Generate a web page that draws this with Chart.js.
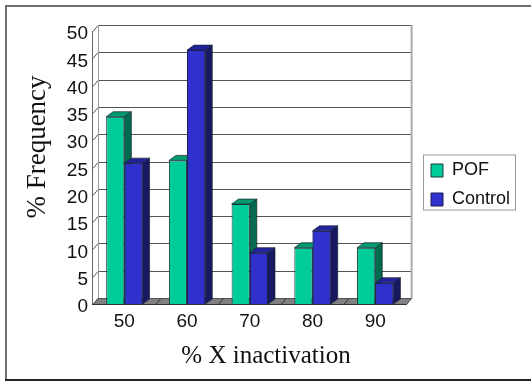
<!DOCTYPE html>
<html>
<head>
<meta charset="utf-8">
<script src="https://cdn.jsdelivr.net/npm/chart.js@4"></script>
<style>
  html, body { margin: 0; padding: 0; background: #fff; }
  canvas { display: block; }
</style>
</head>
<body>
<canvas id="myChart" width="531" height="381"></canvas>
<script>
var CATEGORIES = ['50', '60', '70', '80', '90'];
var POF = [34.3, 26.3, 18.3, 10.3, 10.3];
var CONTROL = [25.8, 46.5, 9.4, 13.4, 3.9];
var Y_TICKS = [0, 5, 10, 15, 20, 25, 30, 35, 40, 45, 50];

// depth of the fake 3d box, in pixels
var DX = 5, DY = -6;
var BAR_DX = 7, BAR_DY = -5;

var SIDE_COLORS = ['#006B4D', '#181860'];
var TOP_COLORS = ['#009A70', '#22229A'];

function face(ctx, pts, color) {
  ctx.beginPath();
  ctx.moveTo(pts[0][0], pts[0][1]);
  for (var i = 1; i < pts.length; i++) ctx.lineTo(pts[i][0], pts[i][1]);
  ctx.closePath();
  ctx.fillStyle = color;
  ctx.fill();
  ctx.strokeStyle = '#1c2430';
  ctx.lineWidth = 0.7;
  ctx.stroke();
}

function barDepth(chart, k) {
  var ctx = chart.ctx;
  chart.getDatasetMeta(k).data.forEach(function(bar) {
    var p = bar.getProps(['x', 'y', 'base', 'width'], true);
    var l = p.x - p.width / 2, r = p.x + p.width / 2;
    face(ctx, [[r, p.y], [r + BAR_DX, p.y + BAR_DY], [r + BAR_DX, p.base + BAR_DY], [r, p.base]], SIDE_COLORS[k]);
    face(ctx, [[l, p.y], [l + BAR_DX, p.y + BAR_DY], [r + BAR_DX, p.y + BAR_DY], [r, p.y]], TOP_COLORS[k]);
  });
}

var frame3d = {
  id: 'frame3d',
  // the legend clips its own box, and the text runs a little past it
  afterLayout: function(chart) {
    chart.legend.right += 12;
  },
  // back wall, floor and grid lines
  beforeDatasetsDraw: function(chart) {
    var ctx = chart.ctx, a = chart.chartArea, y = chart.scales.y, x = chart.scales.x;
    ctx.save();
    ctx.lineWidth = 1;
    Y_TICKS.forEach(function(v) {
      var py = Math.round(y.getPixelForValue(v)) + 0.5;
      ctx.strokeStyle = v === 0 ? '#777' : '#555';
      ctx.beginPath();
      ctx.moveTo(a.left, py);
      ctx.lineTo(a.left + DX, py + DY);
      if (v > 0) ctx.lineTo(a.right + DX, py + DY);
      ctx.stroke();
    });
    // walls
    ctx.strokeStyle = '#666';
    ctx.beginPath();
    ctx.moveTo(Math.round(a.left) - 0.5, a.top);
    ctx.lineTo(Math.round(a.left) - 0.5, a.bottom);
    ctx.stroke();
    ctx.strokeStyle = '#999';
    ctx.beginPath();
    ctx.moveTo(a.left + DX + 0.5, a.top + DY);
    ctx.lineTo(a.left + DX + 0.5, a.bottom + DY);
    ctx.stroke();
    ctx.lineWidth = 2;
    ctx.strokeStyle = '#aaa';
    ctx.beginPath();
    ctx.moveTo(a.right + DX, a.top + DY);
    ctx.lineTo(a.right + DX, a.bottom + DY);
    ctx.stroke();
    // floor
    var b = Math.round(a.bottom) + 0.5;
    face(ctx, [[a.left, b], [a.left + DX, b + DY], [a.right + DX, b + DY], [a.right, b]], '#808080');
    ctx.strokeStyle = '#333';
    ctx.lineWidth = 1;
    for (var i = 1; i < CATEGORIES.length; i++) {
      var fx = (x.getPixelForValue(i - 1) + x.getPixelForValue(i)) / 2;
      ctx.beginPath();
      ctx.moveTo(fx, b);
      ctx.lineTo(fx + DX, b + DY);
      ctx.stroke();
    }
    ctx.beginPath();
    ctx.moveTo(a.left - 1, b);
    ctx.lineTo(a.right, b);
    ctx.stroke();
    ctx.restore();
  },
  // POF depth goes under the Control bars, so those are drawn again on top
  afterDatasetsDraw: function(chart) {
    var ctx = chart.ctx;
    ctx.save();
    barDepth(chart, 0);
    chart.getDatasetMeta(1).data.forEach(function(bar) { bar.draw(ctx); });
    barDepth(chart, 1);
    ctx.restore();
  },
  // outer frame, legend box, axis titles
  afterDraw: function(chart) {
    var ctx = chart.ctx, hit = chart.legend.legendHitBoxes;
    ctx.save();
    ctx.strokeStyle = '#707070';
    ctx.lineWidth = 2;
    ctx.beginPath();
    ctx.moveTo(531, 6);
    ctx.lineTo(6, 6);
    ctx.lineTo(6, 380);
    ctx.stroke();
    ctx.strokeStyle = '#222';
    ctx.beginPath();
    ctx.moveTo(5, 380);
    ctx.lineTo(531, 380);
    ctx.stroke();

    var first = hit[0], last = hit[hit.length - 1];
    ctx.strokeStyle = '#999';
    ctx.lineWidth = 1;
    ctx.strokeRect(423.5, first.top - 6.5, 92, last.top + last.height - first.top + 8);

    ctx.fillStyle = '#111';
    ctx.textAlign = 'center';
    ctx.textBaseline = 'middle';
    ctx.font = '25px "Liberation Serif"';
    ctx.fillText('% X inactivation', 266, 356);
    ctx.translate(38, 147);
    ctx.rotate(-Math.PI / 2);
    ctx.font = '27px "Liberation Serif"';
    ctx.fillText('% Frequency', 0, 0);
    ctx.restore();
  }
};

var chart = new Chart(document.getElementById('myChart').getContext('2d'), {
  type: 'bar',
  data: {
    labels: CATEGORIES,
    datasets: [
      { label: 'POF', data: POF, backgroundColor: '#00CC99', borderColor: '#1c3a3a', borderWidth: 1 },
      { label: 'Control', data: CONTROL, backgroundColor: '#3030CC', borderColor: '#1c1c50', borderWidth: 1 }
    ]
  },
  options: {
    responsive: false,
    animation: false,
    events: [],
    layout: { padding: { top: 31, bottom: 42, left: 0, right: 27 } },
    datasets: { bar: { categoryPercentage: 0.58, barPercentage: 1 } },
    scales: {
      x: {
        grid: { display: false, drawTicks: false },
        border: { display: false },
        afterFit: function(s) { s.height = 35; },
        ticks: { color: '#111', padding: 6, maxRotation: 0, font: { family: 'Liberation Sans', size: 19 } }
      },
      y: {
        min: 0,
        max: 50,
        afterFit: function(s) { s.width = 93; },
        grid: { display: false, drawTicks: false },
        border: { display: false },
        afterBuildTicks: function(s) { s.ticks = Y_TICKS.map(function(v) { return { value: v }; }); },
        ticks: { color: '#111', padding: 5, labelOffset: 3, font: { family: 'Liberation Sans', size: 19 } }
      },
      // keeps the gap between the plot and the legend
      gap: {
        position: 'right',
        display: true,
        min: 0,
        max: 1,
        grid: { display: false },
        border: { display: false },
        ticks: { display: false },
        afterFit: function(s) { s.width = 13.4; }
      }
    },
    plugins: {
      tooltip: { enabled: false },
      legend: {
        position: 'right',
        labels: {
          boxWidth: 12,
          boxHeight: 13,
          padding: 11,
          color: '#111',
          font: { family: 'Liberation Sans', size: 18 }
        }
      }
    }
  },
  plugins: [frame3d]
});
</script>
</body>
</html>
